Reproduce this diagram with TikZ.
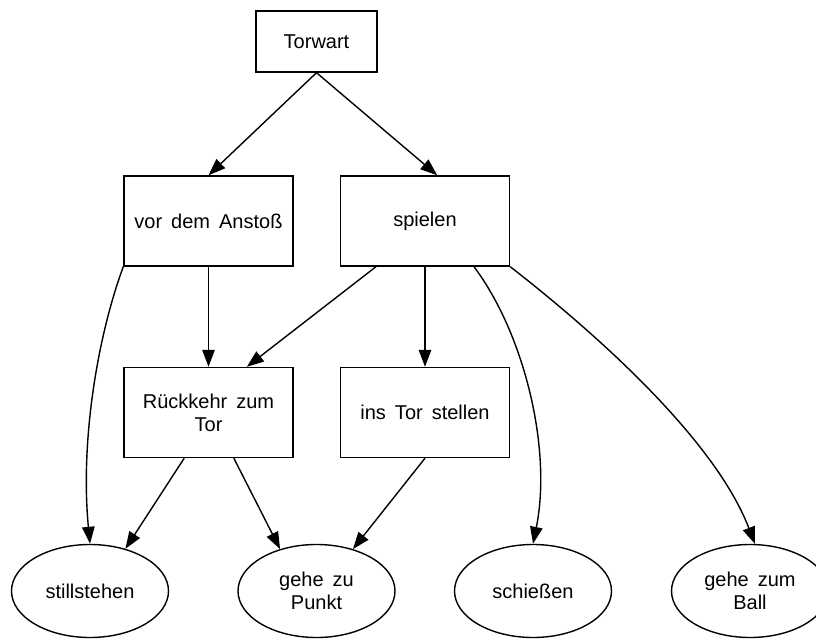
\documentclass[tikz,border=0pt]{standalone}
\usepackage{fontspec}
\setmainfont{Liberation Sans}
\usetikzlibrary{arrows.meta,shapes.geometric}

% label font with slightly wider word gaps
\newcommand{\labelfont}{\fontsize{20}{23}\selectfont\spaceskip=0.45em\relax}

\tikzset{
  every node/.style={font=\labelfont, align=center, inner sep=0pt},
  taskbox/.style={draw, line width=1.4pt, rectangle, minimum width=169pt, minimum height=90pt},
  rootbox/.style={draw, line width=1.4pt, rectangle, minimum width=121pt, minimum height=61pt},
  actnode/.style={draw, line width=1.4pt, ellipse, minimum width=157pt, minimum height=93pt},
  edge/.style={line width=1.4pt, -{Triangle[length=17pt, width=12.5pt]}},
}

\begin{document}
\begin{tikzpicture}[x=1pt, y=-1pt]
  \useasboundingbox (0,0) rectangle (816,639);
  \clip (0,0) rectangle (816,639);

  % composite tasks
  \node[rootbox] (tor)   at (316.5, 41.5) {Torwart};
  \node[taskbox] (vor)   at (208.5, 221)  {vor dem Anstoß};
  \node[taskbox] (spiel) at (425, 221)    {spielen};
  \node[taskbox] (rueck) at (208.5, 412.5) {Rückkehr zum\\Tor};
  \node[taskbox] (ins)   at (425, 412.5)  {ins Tor stellen};

  % primitive actions
  \node[actnode] (still) at (90, 591)    {stillstehen};
  \node[actnode] (punkt) at (316.5, 591) {gehe zu\\Punkt};
  \node[actnode] (schuss) at (533, 591)  {schießen};
  \node[actnode] (ball)  at (750, 591)   {gehe zum\\Ball};

  % decomposition edges
  \draw[edge] (tor.south) -- (vor.north);
  \draw[edge] (tor.south) -- (spiel.75);
  \draw[edge] (vor.south west) .. controls (98,335) and (80,440) .. (still.north);
  \draw[edge] (vor.south) -- (rueck.north);
  \draw[edge] (spiel.223) -- (rueck.50);
  \draw[edge] (spiel.south) -- (ins.north);
  \draw[edge] (spiel.-43) .. controls (525,335) and (552,450) .. (schuss.north);
  \draw[edge] (spiel.south east) .. controls (598,335) and (715,440) .. (ball.84);
  \draw[edge] (rueck.242) -- (still.50);
  \draw[edge] (rueck.-61) -- (punkt.131);
  \draw[edge] (ins.south) -- (punkt.49);
\end{tikzpicture}
\end{document}
